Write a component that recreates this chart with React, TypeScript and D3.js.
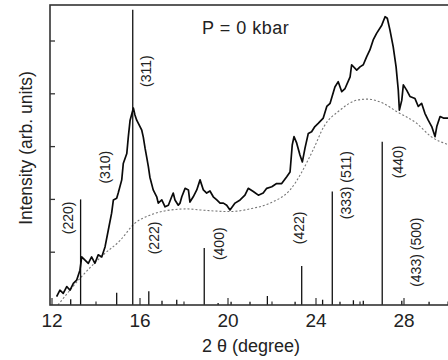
import React from 'react';
import * as d3 from 'd3';

const W = 448;
const H = 360;

// Measured pattern (2 theta in degrees, intensity in arb. units)
const curveDeg = [12.21, 12.36, 12.51, 12.67, 12.82, 12.97, 13.12, 13.27, 13.35, 13.5, 13.65, 13.8, 13.95, 14.1, 14.26, 14.41, 14.56, 14.71, 14.79, 14.94, 15.01, 15.17, 15.24, 15.4, 15.47, 15.55, 15.7, 15.77, 15.85, 16.0, 16.08, 16.15, 16.23, 16.3, 16.38, 16.45, 16.6, 16.76, 16.83, 16.99, 17.14, 17.29, 17.44, 17.51, 17.59, 17.74, 17.82, 17.9, 18.05, 18.2, 18.27, 18.42, 18.58, 18.73, 18.88, 19.03, 19.18, 19.33, 19.49, 19.64, 19.79, 19.94, 20.09, 20.32, 20.55, 20.77, 20.92, 21.15, 21.38, 21.6, 21.76, 21.99, 22.21, 22.44, 22.67, 22.82, 22.92, 23.0, 23.12, 23.27, 23.38, 23.5, 23.65, 23.8, 23.95, 24.1, 24.33, 24.49, 24.64, 24.86, 25.01, 25.17, 25.32, 25.55, 25.62, 25.85, 26.0, 26.15, 26.3, 26.45, 26.6, 26.76, 26.99, 27.14, 27.24, 27.36, 27.51, 27.64, 27.74, 27.79, 27.9, 27.97, 28.12, 28.27, 28.5, 28.65, 28.8, 28.95, 29.1, 29.26, 29.41, 29.49, 29.64, 29.79, 30.0, 30.2];
const curveVal = [0.16, 0.28, 0.22, 0.35, 0.28, 0.41, 0.47, 0.66, 0.91, 0.85, 0.79, 0.91, 0.79, 0.95, 0.91, 1.1, 1.42, 1.74, 1.99, 2.02, 2.12, 2.37, 2.68, 2.87, 3.19, 3.5, 3.73, 3.6, 3.5, 3.38, 3.31, 3.18, 2.97, 2.81, 2.62, 2.42, 2.18, 2.05, 1.93, 1.99, 1.86, 1.89, 2.05, 2.12, 1.99, 1.89, 1.93, 2.05, 2.21, 2.18, 1.95, 2.05, 2.18, 2.37, 2.18, 2.12, 2.16, 2.05, 1.99, 1.93, 1.93, 1.89, 1.8, 1.93, 1.99, 2.08, 2.21, 2.15, 2.08, 2.12, 2.21, 2.24, 2.3, 2.3, 2.43, 2.52, 3.03, 3.19, 3.07, 2.84, 2.71, 2.97, 3.25, 3.28, 3.38, 3.44, 3.54, 3.76, 3.82, 4.13, 4.23, 4.04, 4.1, 4.32, 4.55, 4.45, 4.51, 4.55, 4.7, 4.83, 5.02, 5.15, 5.3, 5.46, 5.43, 5.21, 4.89, 4.51, 4.07, 3.69, 3.88, 4.17, 4.07, 3.95, 3.91, 3.76, 3.82, 3.63, 3.5, 3.38, 3.19, 3.38, 3.57, 3.54, 3.54, 3.5];

// Background (dotted)
const bgDeg = [12.27, 13.35, 14.33, 15.09, 15.77, 16.45, 17.23, 18.14, 18.73, 20.09, 21.0, 21.91, 22.82, 23.86, 24.36, 25.09, 25.86, 26.32, 27.05, 27.68, 28.58, 29.23, 30.0, 30.4];
const bgVal = [0, 0.54, 0.95, 1.22, 1.55, 1.7, 1.79, 1.82, 1.8, 1.77, 1.82, 1.93, 2.18, 2.93, 3.38, 3.69, 3.88, 3.9, 3.82, 3.66, 3.44, 3.19, 3.04, 3.0];

// Reference reflections (stick pattern)
const stickDeg = [12.85, 13.3, 14.94, 15.67, 16.4, 17.0, 17.67, 18.92, 19.55, 20.14, 21.0, 21.79, 23.05, 23.35, 24.3, 24.74, 25.09, 25.7, 26.15, 27.01, 27.9, 29.14];
const stickVal = [0.11, 2.0, 0.23, 5.59, 0.26, 0.08, 0.1, 1.08, 0.04, 0.06, 0.06, 0.17, 0.06, 0.74, 0.1, 2.15, 0.06, 0.09, 0.08, 3.09, 0.08, 0.06];

// Miller index labels (centre position)
const labelText = ['(220)', '(310)', '(311)', '(222)', '(400)', '(422)', '(333) (511)', '(440)', '(433) (500)'];
const labelDeg = [12.73, 14.41, 16.27, 16.64, 19.59, 23.23, 25.36, 27.73, 28.55];
const labelVal = [1.65, 2.61, 4.43, 1.27, 1.16, 1.46, 2.27, 2.71, 1.0];

const xTicks = [12, 14, 16, 18, 20, 22, 24, 26, 28, 30];
const xTickLabels = [12, 16, 20, 24, 28];
const yTicks = [1, 2, 3, 4, 5];

export default function App() {
  const x = d3.scaleLinear().domain([11.909, 30.5]).range([50, 459]);
  const y = d3.scaleLinear().domain([0, 5.682]).range([305, 5]);

  const curvePts: [number, number][] = curveDeg.map((d, i) => [x(d), y(curveVal[i])]);
  const bgPts: [number, number][] = bgDeg.map((d, i) => [x(d), y(bgVal[i])]);
  const line = d3.line();
  const smooth = d3.line().curve(d3.curveMonotoneX);

  const font = "'Liberation Sans', Arial, Helvetica, sans-serif";

  return (
    <div style={{ position: 'absolute', left: 0, top: 0 }}>
      <svg width={W} height={H} style={{ display: 'block', background: '#fff' }}>
        <defs>
          <clipPath id="plot">
            <rect x={50} y={5} width={409} height={300} />
          </clipPath>
        </defs>
        <g clipPath="url(#plot)">
          <path d={smooth(bgPts) || ''} fill="none" stroke="#777" strokeWidth={1.1} strokeDasharray="2,2" />
          {stickDeg.map((d, i) => (
            <line key={i} x1={x(d)} x2={x(d)} y1={y(0)} y2={y(stickVal[i])} stroke="#111" strokeWidth={1.3} />
          ))}
          <path d={line(curvePts) || ''} fill="none" stroke="#0a0a0a" strokeWidth={1.7} strokeLinejoin="round" />
        </g>
        {/* frame */}
        <rect x={50} y={5} width={409} height={300} fill="none" stroke="#333" strokeWidth={1.6} />
        {yTicks.map((t) => (
          <line key={t} x1={50} x2={55} y1={y(t)} y2={y(t)} stroke="#333" strokeWidth={1.3} />
        ))}
        {xTicks.map((t) => (
          <line key={t} x1={x(t)} x2={x(t)} y1={305} y2={305 - (t % 4 === 0 ? 7 : 3.5)} stroke="#333" strokeWidth={1.2} />
        ))}
        {xTickLabels.map((t) => (
          <text key={t} x={x(t)} y={327} textAnchor="middle" fontFamily={font} fontSize={19} fill="#222">{t}</text>
        ))}
        <text x={251} y={352} textAnchor="middle" fontFamily={font} fontSize={18} fill="#222">2 θ (degree)</text>
        <text transform="translate(26,148) rotate(-90)" textAnchor="middle" dominantBaseline="central" fontFamily={font} fontSize={17.5} fill="#222">Intensity (arb. units)</text>
        <text x={202} y={33.5} fontFamily={font} fontSize={18} letterSpacing={0.5} fill="#222">P = 0 kbar</text>
        {labelText.map((s, i) => (
          <text key={i} transform={`translate(${x(labelDeg[i])},${y(labelVal[i])}) rotate(-90)`} textAnchor="middle" dominantBaseline="central" fontFamily={font} fontSize={14} fill="#222">{s}</text>
        ))}
      </svg>
    </div>
  );
}
